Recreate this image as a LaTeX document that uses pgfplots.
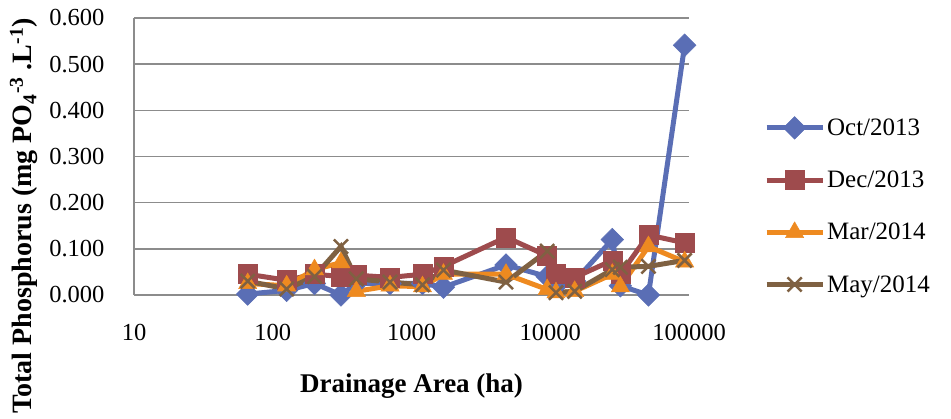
\documentclass[border=0pt]{standalone}
\usepackage{fontspec}
\setmainfont{Liberation Serif}
\usepackage{pgfplots}
\usepackage{pgfplotstable}
\pgfplotsset{compat=1.18}
\definecolor{octc}{HTML}{5A6EB5}
\definecolor{decc}{HTML}{9E4B4D}
\definecolor{marc}{HTML}{EE8A20}
\definecolor{mayc}{HTML}{7F6142}
\definecolor{gridc}{HTML}{8C8C8C}
\pgfplotstableread{
x     oct    dec    mar    may
66    0.002  0.045  0.025  0.030
126   0.010  0.032  0.020  0.013
200   0.025  0.045  0.055  0.040
310   0.000  0.040  0.070  0.105
400   0.025  0.043  0.008  0.035
700   0.025  0.038  0.020  0.028
1200  0.025  0.045  0.018  0.022
1700  0.017  0.062  0.045  0.054
4800  0.065  0.125  0.045  0.028
9500  0.040  0.085  0.012  0.095
11000 0.020  0.045  0.005  0.005
15000 0.030  0.038  0.008  0.008
28000 0.120  0.075  0.045  0.055
32000 0.020  0.045  0.018  0.060
51000 0.000  0.130  0.105  0.062
93000 0.541  0.113  0.072  0.075
}\datatable
\begin{document}
\begin{tikzpicture}[x=1pt,y=1pt]
\useasboundingbox (-134,-124) rectangle (817,295);
\begin{axis}[
  at={(0,0)}, anchor=south west,
  scale only axis, width=555pt, height=277pt,
  xmode=log, log basis x=10,
  xmin=10, xmax=100000, ymin=0, ymax=0.6,
  xtick={10,100,1000,10000,100000},
  xticklabels={10,100,1000,10000,100000},
  ytick={0,0.1,0.2,0.3,0.4,0.5,0.6},
  yticklabel style={/pgf/number format/.cd, fixed, fixed zerofill, precision=3, /tikz/.cd, xshift=-26pt},
  xticklabel style={yshift=-26pt},
  /pgf/number format/assume math mode=true,
  tick label style={font=\fontsize{24.5}{28}\selectfont},
  major tick length=0pt,
  axis x line*=bottom, axis y line*=left,
  axis line style={gridc, line width=1.5pt},
  ymajorgrids, grid style={gridc, line width=1.5pt},
  clip=false,
  legend style={at={(axis description cs:1.135,0.645)}, anchor=north west, draw=none, fill=none,
    font=\fontsize{25}{28}\selectfont, row sep=30pt, inner sep=0pt,
    /tikz/every even column/.append style={column sep=0pt}},
  legend cell align=left,
  legend image code/.code={\draw[mark repeat=2,mark phase=2,#1] plot coordinates {(0pt,0pt) (28pt,0pt) (56pt,0pt)};},
  every axis plot/.append style={line width=5pt},
]
\addplot[octc, mark=square*, mark size=8pt, mark options={rotate=45, line width=0.5pt}] table[x=x, y=oct] {\datatable};
\addlegendentry{Oct/2013}
\addplot[decc, mark=square*, mark size=9.5pt, mark options={line width=0.5pt}] table[x=x, y=dec] {\datatable};
\addlegendentry{Dec/2013}
\addplot[marc, mark=triangle*, mark size=10.5pt, mark options={line width=0.5pt}] table[x=x, y=mar] {\datatable};
\addlegendentry{Mar/2014}
\addplot[mayc, mark=x, mark size=10pt, mark options={line width=2.5pt}] table[x=x, y=may] {\datatable};
\addlegendentry{May/2014}
\end{axis}
\node[font=\bfseries\fontsize{27}{30}\selectfont, anchor=base] at (277.5,-98) {Drainage Area (ha)};
\node[font=\bfseries\fontsize{28}{30}\selectfont, anchor=base, rotate=90] at (-102,79) {Total Phosphorus (mg PO\textsubscript{4}\textsuperscript{-3} .L\textsuperscript{-1})};
\end{tikzpicture}
\end{document}
